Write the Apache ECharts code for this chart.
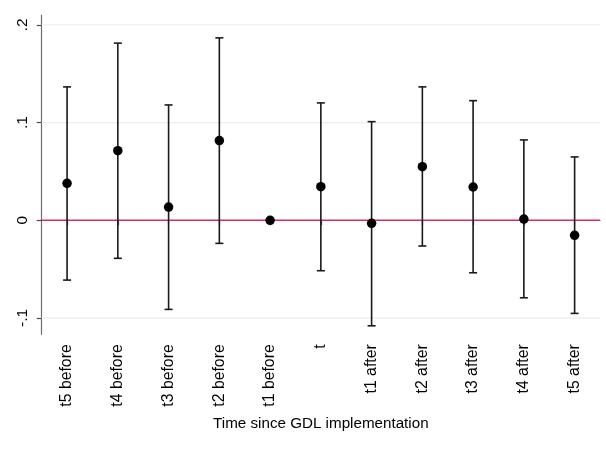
<!DOCTYPE html>
<html>
<head>
<meta charset="utf-8">
<script src="https://cdn.jsdelivr.net/npm/echarts@6/dist/echarts.min.js"></script>
<style>
  html, body { margin: 0; padding: 0; background: #ffffff; }
  #chart { width: 606px; height: 450px; }
</style>
</head>
<body>
<div id="chart"></div>
<script>
const categories = ['t5 before', 't4 before', 't3 before', 't2 before', 't1 before', 't',
                    't1 after', 't2 after', 't3 after', 't4 after', 't5 after'];
const coef   = [0.0379, 0.0713, 0.0136, 0.0816, 0.0000, 0.0344, -0.0031, 0.0549, 0.0341, 0.0013, -0.0154];
const ciLow  = [-0.0612, -0.0389, -0.0912, -0.0236, null, -0.0516, -0.1080, -0.0263, -0.0537, -0.0793, -0.0953];
const ciHigh = [0.1366, 0.1814, 0.1181, 0.1868, null, 0.1202, 0.1010, 0.1366, 0.1225, 0.0823, 0.0649];
const yTickValues = [-0.1, 0, 0.1, 0.2];
const yTickLabels = ['-.1', '0', '.1', '.2'];
const gridValues = [-0.1, 0.1, 0.2];
const refValue = 0;
const xTitle = 'Time since GDL implementation';

const ciData = [];
categories.forEach((c, i) => {
  if (ciLow[i] !== null && ciHigh[i] !== null) ciData.push([i, ciLow[i], ciHigh[i]]);
});

const FONT = '"Liberation Sans", Arial, sans-serif';
const chart = echarts.init(document.getElementById('chart'), null, { renderer: 'canvas' });

function hLine(color, width) {
  return function (params, api) {
    const cs = params.coordSys;
    const p = api.coord([0, api.value(1)]);
    return {
      type: 'line',
      shape: { x1: cs.x, y1: p[1], x2: cs.x + cs.width, y2: p[1] },
      style: { stroke: color, lineWidth: width }
    };
  };
}

chart.setOption({
  animation: false,
  backgroundColor: '#ffffff',
  grid: { left: 41.7, right: 6, top: 15, bottom: 115.7, containLabel: false },
  xAxis: {
    type: 'category',
    data: categories,
    boundaryGap: true,
    name: xTitle,
    nameLocation: 'middle',
    nameGap: 82,
    nameTextStyle: { fontFamily: FONT, fontSize: 15.2, color: '#000', verticalAlign: 'top' },
    axisLine: { show: true, lineStyle: { color: '#4a4a4a', width: 1.2 } },
    axisTick: { show: true, alignWithLabel: true, length: 5, lineStyle: { color: '#4a4a4a', width: 1.2 } },
    axisLabel: { rotate: 90, margin: 10, fontFamily: FONT, fontSize: 15.8, color: '#000', interval: 0 },
    splitLine: { show: false }
  },
  yAxis: {
    type: 'value',
    min: -0.1167,
    max: 0.2102,
    axisLine: { show: true, lineStyle: { color: '#6e6e6e', width: 1.2 } },
    axisTick: { show: true, length: 5, customValues: yTickValues, lineStyle: { color: '#4a4a4a', width: 1.2 } },
    axisLabel: {
      rotate: 90, margin: 11, fontFamily: FONT, fontSize: 15.5, color: '#000',
      customValues: yTickValues,
      formatter: function (v) {
        const k = yTickValues.findIndex(t => Math.abs(t - v) < 1e-9);
        return k >= 0 ? yTickLabels[k] : '';
      }
    },
    splitLine: { show: false }
  },
  series: [
    {
      type: 'custom',
      z: 1,
      silent: true,
      clip: false,
      data: gridValues.map(v => [0, v]),
      encode: { x: 0, y: 1 },
      renderItem: hLine('#eaf2f1', 1.3)
    },
    {
      type: 'custom',
      z: 2,
      silent: true,
      clip: false,
      data: [[0, refValue]],
      encode: { x: 0, y: 1 },
      renderItem: hLine('#d4305c', 1.5)
    },
    {
      type: 'custom',
      z: 3,
      silent: true,
      data: ciData,
      encode: { x: 0, y: [1, 2] },
      renderItem: function (params, api) {
        const i = api.value(0);
        const top = api.coord([i, api.value(2)]);
        const bot = api.coord([i, api.value(1)]);
        const hw = 4;
        const st = { stroke: '#1a1a1a', lineWidth: 1.6 };
        return {
          type: 'group',
          children: [
            { type: 'line', shape: { x1: top[0], y1: top[1], x2: bot[0], y2: bot[1] }, style: st },
            { type: 'line', shape: { x1: top[0] - hw, y1: top[1], x2: top[0] + hw, y2: top[1] }, style: st },
            { type: 'line', shape: { x1: bot[0] - hw, y1: bot[1], x2: bot[0] + hw, y2: bot[1] }, style: st }
          ]
        };
      }
    },
    {
      type: 'scatter',
      z: 4,
      data: coef,
      symbol: 'circle',
      symbolSize: 9.5,
      itemStyle: { color: '#000000', opacity: 1 }
    }
  ]
});
</script>
</body>
</html>
